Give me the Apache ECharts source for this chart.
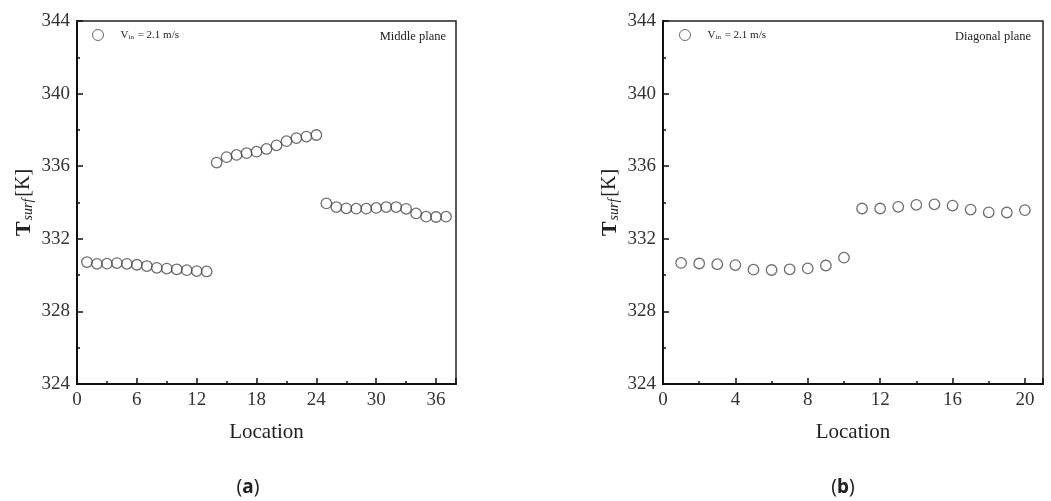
<!DOCTYPE html>
<html>
<head>
<meta charset="utf-8">
<script src="https://cdn.jsdelivr.net/npm/echarts@6/dist/echarts.min.js"></script>
<style>
  html, body { margin: 0; padding: 0; background: #fff; }
  #main { width: 1051px; height: 501px; }
</style>
</head>
<body>
<div id="main"></div>
<script>
// surface temperature along the locations, (a) middle plane, (b) diagonal plane
var locA = [1, 2, 3, 4, 5, 6, 7, 8, 9, 10, 11, 12, 13, 14, 15, 16, 17, 18, 19, 20,
    21, 22, 23, 24, 25, 26, 27, 28, 29, 30, 31, 32, 33, 34, 35, 36, 37];
var tempA = [330.72, 330.62, 330.63, 330.66, 330.62, 330.57, 330.5, 330.4, 330.36, 330.32, 330.27, 330.22, 330.2,
    336.2, 336.5, 336.62, 336.72, 336.8, 336.95, 337.15, 337.38, 337.55, 337.63, 337.72,
    333.95, 333.75, 333.68, 333.66, 333.66, 333.7, 333.75, 333.75, 333.65, 333.4, 333.22, 333.2, 333.22];
var locB = [1, 2, 3, 4, 5, 6, 7, 8, 9, 10, 11, 12, 13, 14, 15, 16, 17, 18, 19, 20];
var tempB = [330.67, 330.64, 330.6, 330.55, 330.3, 330.28, 330.32, 330.37, 330.53, 330.96,
    333.67, 333.67, 333.76, 333.87, 333.9, 333.83, 333.61, 333.46, 333.45, 333.58];
var yTicks = [324, 328, 332, 336, 340, 344];
var xTicksA = [0, 6, 12, 18, 24, 30, 36];
var xTicksB = [0, 4, 8, 12, 16, 20];

var serif = '"Liberation Serif", "DejaVu Serif", serif';

function pairs(xs, ys) {
    var out = [];
    for (var i = 0; i < xs.length; i++) out.push([xs[i], ys[i]]);
    return out;
}

function xAxis(idx, ticks, max) {
    return {
        type: 'value', gridIndex: idx,
        min: ticks[0], max: max, interval: ticks[1] - ticks[0],
        name: 'Location', nameLocation: 'middle', nameGap: 38,
        nameTextStyle: { fontFamily: serif, fontSize: 21, color: '#222' },
        axisLine: { show: true, lineStyle: { color: '#111', width: 2 } },
        axisTick: { inside: true, length: 6, lineStyle: { color: '#111', width: 1.5 } },
        minorTick: { show: true, splitNumber: 2, length: 3, lineStyle: { color: '#111', width: 1.5 } },
        axisLabel: { fontFamily: serif, fontSize: 19, color: '#333', margin: 7, showMaxLabel: false },
        splitLine: { show: false }
    };
}

function yAxis(idx) {
    return {
        type: 'value', gridIndex: idx,
        min: yTicks[0], max: yTicks[yTicks.length - 1], interval: yTicks[1] - yTicks[0],
        name: '{t|T}{s|surf}{k|[K]}', nameLocation: 'middle', nameGap: 42,
        nameTextStyle: {
            color: '#222',
            rich: {
                t: { fontFamily: serif, fontSize: 22, fontWeight: 'bold', color: '#222' },
                s: { fontFamily: serif, fontSize: 14, fontStyle: 'italic', color: '#222', verticalAlign: 'bottom', padding: [0, 2, 0, 1] },
                k: { fontFamily: serif, fontSize: 20, color: '#222' }
            }
        },
        axisLine: { show: true, lineStyle: { color: '#111', width: 2 } },
        axisTick: { inside: true, length: 6, lineStyle: { color: '#111', width: 1.5 } },
        minorTick: { show: true, splitNumber: 2, length: 3, lineStyle: { color: '#111', width: 1.5 } },
        axisLabel: { fontFamily: serif, fontSize: 19, color: '#333', margin: 7 },
        splitLine: { show: false }
    };
}

function legend(left, name) {
    return {
        left: left, top: 24, orient: 'horizontal',
        itemWidth: 11, itemHeight: 11,
        data: [name],
        itemStyle: { borderWidth: 1, borderColor: '#444' },
        formatter: function () { return '{sp|}{v|V}{i|in}{v| = 2.1 m/s}'; },
        textStyle: {
            rich: {
                sp: { width: 12 },
                v: { fontFamily: serif, fontSize: 11, color: '#222' },
                i: { fontFamily: serif, fontSize: 7, color: '#222', verticalAlign: 'bottom', padding: [4, 1, 0, 0] }
            }
        },
        selectedMode: false
    };
}

function scatter(name, idx, data) {
    return {
        name: name, type: 'scatter', xAxisIndex: idx, yAxisIndex: idx,
        data: data, symbol: 'circle', symbolSize: 10.5,
        itemStyle: { color: 'rgba(255,255,255,0)', borderColor: '#4a4a4a', borderWidth: 1.3 }
    };
}

var myChart = echarts.init(document.getElementById('main'), null, { renderer: 'canvas' });
var option = {
    backgroundColor: '#fff',
    animation: false,
    grid: [
        { left: 77, top: 21, width: 379, height: 363, show: true, borderColor: '#222', borderWidth: 1.5 },
        { left: 663, top: 21, width: 380, height: 363, show: true, borderColor: '#222', borderWidth: 1.5 }
    ],
    xAxis: [xAxis(0, xTicksA, 38), xAxis(1, xTicksB, 21)],
    yAxis: [yAxis(0), yAxis(1)],
    legend: [legend(87, 'Vin a'), legend(674, 'Vin b')],
    series: [
        scatter('Vin a', 0, pairs(locA, tempA)),
        scatter('Vin b', 1, pairs(locB, tempB))
    ],
    graphic: [
        { type: 'text', x: 446, y: 37, style: { text: 'Middle plane', font: '12.5px ' + serif, fill: '#222', align: 'right', verticalAlign: 'middle' } },
        { type: 'text', x: 1031, y: 37, style: { text: 'Diagonal plane', font: '12.5px ' + serif, fill: '#222', align: 'right', verticalAlign: 'middle' } },
        { type: 'text', x: 248, y: 488, style: { text: '({b|a})', font: '19px "Noto Sans", sans-serif', fill: '#222', align: 'center', verticalAlign: 'middle',
            rich: { b: { fontWeight: 'bold', fontSize: 19, fontFamily: '"Noto Sans", sans-serif', fill: '#222' } } } },
        { type: 'text', x: 843, y: 488, style: { text: '({b|b})', font: '19px "Noto Sans", sans-serif', fill: '#222', align: 'center', verticalAlign: 'middle',
            rich: { b: { fontWeight: 'bold', fontSize: 19, fontFamily: '"Noto Sans", sans-serif', fill: '#222' } } } }
    ]
};
myChart.setOption(option);
</script>
</body>
</html>
